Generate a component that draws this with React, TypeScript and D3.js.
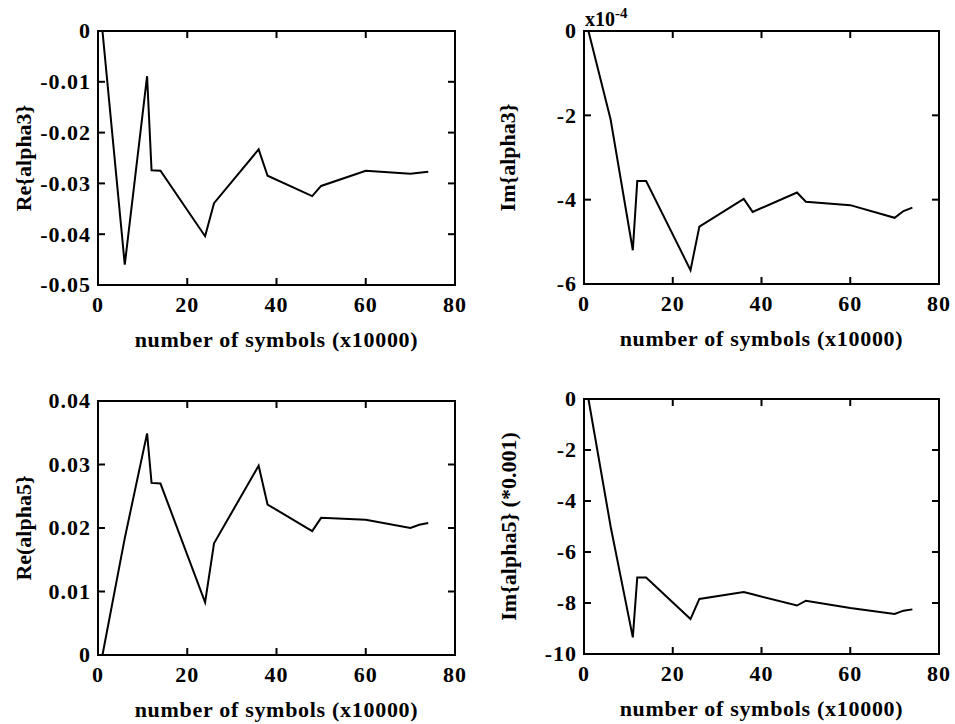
import React, { useEffect, useRef } from 'react';
import * as d3 from 'd3';

// sample positions (x10000 symbols)
const symbols = [1, 6, 11, 12, 14, 24, 26, 36, 38, 48, 50, 60, 70, 72, 74];

const reAlpha3 = [0, -0.046, -0.0089, -0.0274, -0.0275, -0.0404, -0.0339, -0.0233, -0.0285, -0.0325, -0.0305, -0.0275, -0.0281, -0.0279, -0.0277];
// in units of 1e-4
const imAlpha3 = [0, -2.1, -5.2, -3.56, -3.56, -5.67, -4.64, -3.98, -4.29, -3.83, -4.05, -4.13, -4.43, -4.27, -4.19];
const reAlpha5 = [0, 0.0184, 0.0349, 0.0271, 0.027, 0.0083, 0.0176, 0.0298, 0.0237, 0.0195, 0.0216, 0.0213, 0.02, 0.0205, 0.0208];
// in units of 0.001
const imAlpha5 = [0, -5.0, -9.35, -7.0, -7.0, -8.63, -7.84, -7.57, -7.66, -8.1, -7.91, -8.2, -8.43, -8.3, -8.25];

const xTicks = [0, 20, 40, 60, 80];
const reA3Ticks = [0, -0.01, -0.02, -0.03, -0.04, -0.05];
const imA3Ticks = [0, -2, -4, -6];
const reA5Ticks = [0, 0.01, 0.02, 0.03, 0.04];
const imA5Ticks = [0, -2, -4, -6, -8, -10];

const xLabel = 'number of symbols (x10000)';

const FONT = '"Liberation Serif", "Times New Roman", serif';

const panels = [
    { box: [98, 31, 455, 285], values: reAlpha3, yTicks: reA3Ticks, yDomain: [-0.05, 0], yLabel: 'Re{alpha3}', yLabelX: 23, fmt: (v: number) => (v === 0 ? '0' : v.toFixed(2)) },
    { box: [584, 31, 939, 284], values: imAlpha3, yTicks: imA3Ticks, yDomain: [-6, 0], yLabel: 'Im{alpha3}', yLabelX: 507, fmt: (v: number) => String(v), exp: true },
    { box: [98, 401, 455, 655], values: reAlpha5, yTicks: reA5Ticks, yDomain: [0, 0.04], yLabel: 'Re(alpha5}', yLabelX: 23, fmt: (v: number) => (v === 0 ? '0' : v.toFixed(2)) },
    { box: [584, 399, 939, 654], values: imAlpha5, yTicks: imA5Ticks, yDomain: [-10, 0], yLabel: 'Im{alpha5} (*0.001)', yLabelX: 508, fmt: (v: number) => String(v) },
];

const App = () => {
    const ref = useRef<SVGSVGElement>(null);

    useEffect(() => {
        const svg = d3.select(ref.current);
        svg.selectAll('*').remove();

        panels.forEach(p => {
            const [x0, y0, x1, y1] = p.box;
            const x = d3.scaleLinear().domain([0, 80]).range([x0, x1]);
            const y = d3.scaleLinear().domain(p.yDomain).range([y1, y0]);
            const g = svg.append('g');

            // frame
            g.append('rect')
                .attr('x', x0).attr('y', y0)
                .attr('width', x1 - x0).attr('height', y1 - y0)
                .attr('fill', 'none').attr('stroke', '#000').attr('stroke-width', 2);

            // inward ticks on all sides
            const tl = 7;
            xTicks.forEach(t => {
                g.append('line').attr('x1', x(t)).attr('x2', x(t)).attr('y1', y1).attr('y2', y1 - tl)
                    .attr('stroke', '#000').attr('stroke-width', 2);
                g.append('line').attr('x1', x(t)).attr('x2', x(t)).attr('y1', y0).attr('y2', y0 + tl)
                    .attr('stroke', '#000').attr('stroke-width', 2);
                g.append('text').attr('x', x(t)).attr('y', y1 + 27)
                    .attr('text-anchor', 'middle').attr('font-family', FONT)
                    .attr('font-weight', 'bold').attr('font-size', 22)
                    .attr('letter-spacing', 1).text(t);
            });
            p.yTicks.forEach(t => {
                g.append('line').attr('x1', x0).attr('x2', x0 + tl).attr('y1', y(t)).attr('y2', y(t))
                    .attr('stroke', '#000').attr('stroke-width', 2);
                g.append('line').attr('x1', x1).attr('x2', x1 - tl).attr('y1', y(t)).attr('y2', y(t))
                    .attr('stroke', '#000').attr('stroke-width', 2);
                g.append('text').attr('x', x0 - 7).attr('y', y(t)).attr('dy', '0.34em')
                    .attr('text-anchor', 'end').attr('font-family', FONT)
                    .attr('font-weight', 'bold').attr('font-size', 22)
                    .attr('letter-spacing', 1).text(p.fmt(t));
            });

            // data line
            const line = d3.line<number>()
                .x((_, i) => x(symbols[i]))
                .y(d => y(d));
            g.append('path')
                .datum(p.values)
                .attr('fill', 'none')
                .attr('stroke', '#000')
                .attr('stroke-width', 2)
                .attr('stroke-linejoin', 'miter')
                .attr('d', line);

            // axis labels
            g.append('text').attr('x', (x0 + x1) / 2).attr('y', y1 + 62)
                .attr('text-anchor', 'middle').attr('font-family', FONT)
                .attr('font-weight', 'bold').attr('font-size', 22)
                .attr('letter-spacing', 0.7).text(xLabel);
            g.append('text')
                .attr('transform', `translate(${p.yLabelX},${(y0 + y1) / 2}) rotate(-90)`)
                .attr('dy', '0.35em')
                .attr('text-anchor', 'middle').attr('font-family', FONT)
                .attr('font-weight', 'bold').attr('font-size', 22).text(p.yLabel);

            if (p.exp) {
                const t = g.append('text').attr('x', x0 + 1).attr('y', y0 - 5)
                    .attr('font-family', FONT).attr('font-weight', 'bold').attr('font-size', 20);
                t.append('tspan').text('x10');
                t.append('tspan').attr('dy', -8).attr('font-size', 15).text('-4');
            }
        });
    }, []);

    return (
        <svg ref={ref} width={955} height={724}
             style={{ position: 'absolute', left: 0, top: 0, background: '#fff' }} />
    );
};

export default App;
